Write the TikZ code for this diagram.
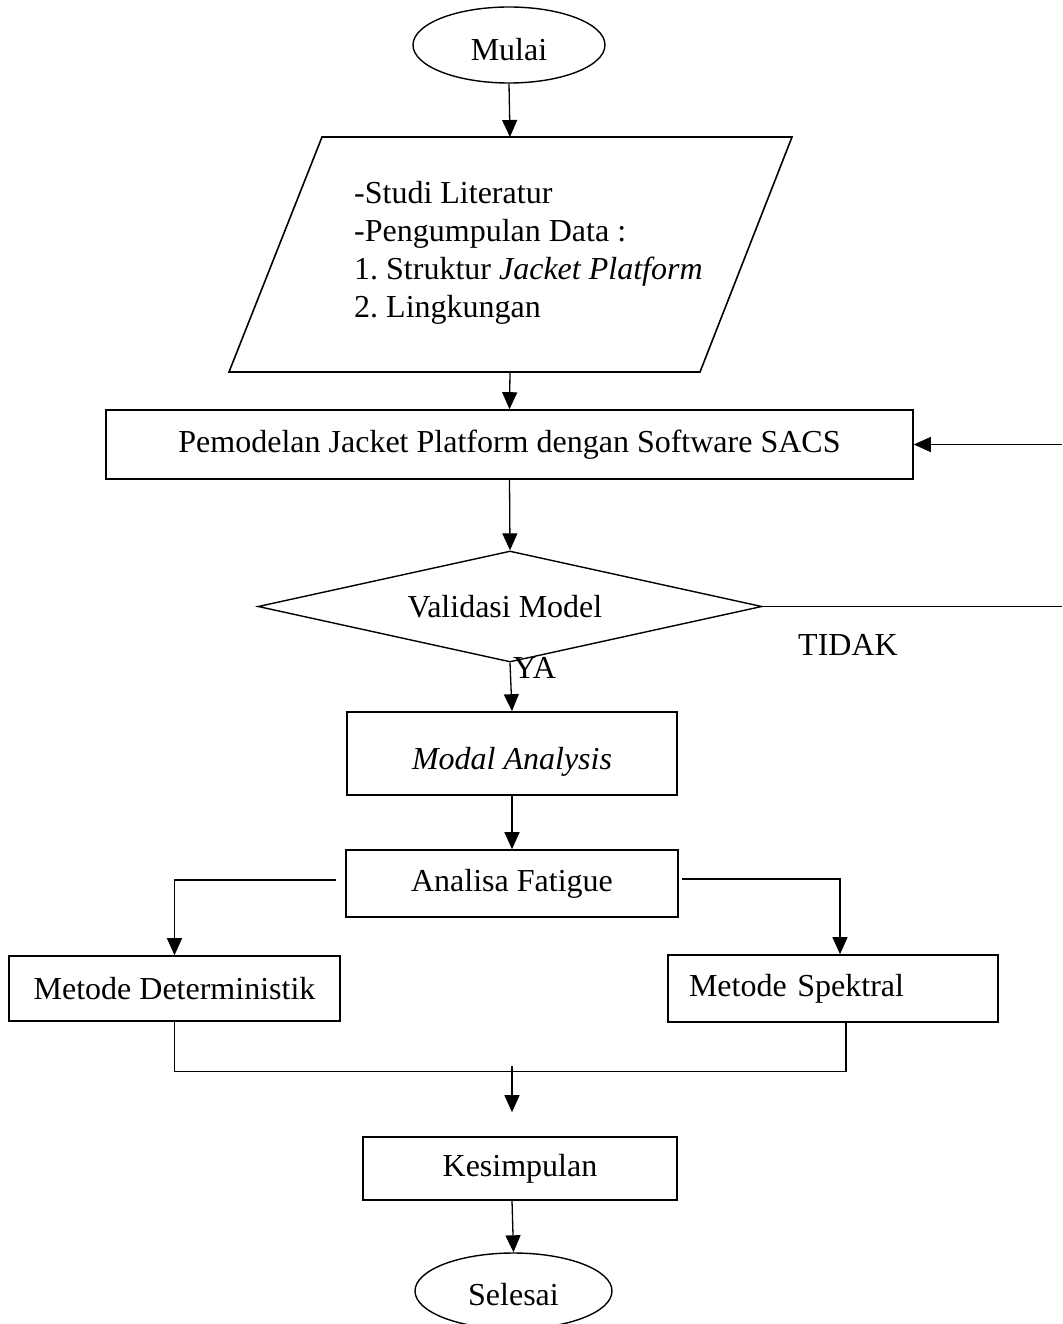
\documentclass[tikz,border=0pt]{standalone}
\usepackage{fontspec}
\setmainfont{Liberation Serif}
\usetikzlibrary{shapes.geometric,arrows.meta}
\begin{document}
\frenchspacing
\begin{tikzpicture}[x=1pt,y=-1pt,
  every node/.style={font=\fontsize{32}{38}\selectfont},
  box/.style={draw, line width=1.6pt, rectangle, inner sep=0pt},
  terminal/.style={draw, ellipse, line width=1.4pt, inner sep=0pt},
  link/.style={line width=1.3pt},
  arr/.style={line width=1.3pt, -{Triangle[width=15pt,length=17pt]}}
]
\useasboundingbox (0,0) rectangle (1062,1324);

% start
\node[terminal, minimum width=192pt, minimum height=76pt, text height=32pt, text depth=0pt] (start) at (509,45) {Mulai};

% input parallelogram
\coordinate (pTL) at (322,137);
\coordinate (pTR) at (792,137);
\coordinate (pBR) at (700,372);
\coordinate (pBL) at (229,372);
\coordinate (pIn) at (510,137);
\coordinate (pOut) at (510,372);
\draw[line width=1.6pt] (pTL) -- (pTR) -- (pBR) -- (pBL) -- cycle;
\node[anchor=north west, inner sep=0pt, align=left] (lit) at (354,181)
  {-Studi Literatur\\-Pengumpulan Data :\\1. Struktur \textit{Jacket Platform}\\2. Lingkungan};
\draw[arr] (start.south) -- (pIn);

% modelling
\node[box, minimum width=807pt, minimum height=69pt] (model) at (509.5,444.5)
  {Pemodelan Jacket Platform dengan Software SACS};
\draw[arr] (pOut) -- (model.north);

% validation
\node[diamond, draw, line width=1.4pt, inner sep=0pt, aspect=4.54,
  minimum width=504pt, minimum height=111pt] (valid) at (510,606.5) {\hspace*{-10pt}Validasi Model};
\draw[arr] (model.south) -- (valid.north);

% loop back (TIDAK)
\coordinate (loopA) at (1062,606.5);
\coordinate (loopB) at (1062,444.5);
\draw[link] (valid.east) -- (loopA);
\draw[arr] (loopB) -- (model.east);
\node (tidak) at (848,645) {TIDAK};

% modal analysis
\node[box, minimum width=330pt, minimum height=83pt, text height=38pt, text depth=7pt] (modal) at (512,753.5) {\textit{Modal Analysis}};
\draw[arr] (valid.south) -- (modal.north);
\node[anchor=west, inner sep=0pt] (ya) at (513,668) {YA};

% fatigue
\node[box, minimum width=332pt, minimum height=67pt] (fatigue) at (512,883.5) {Analisa Fatigue};
\draw[arr] (modal.south) -- (fatigue.north);

% methods
\node[box, minimum width=331pt, minimum height=65pt] (determ) at (174.5,988.5) {Metode Deterministik};
\node[box, text width=288pt, inner xsep=21pt, align=left, minimum height=67pt] (spektral) at (833,988.5) {Metode Spektral};
\draw[arr] ([xshift=-9pt,yshift=3.5pt]fatigue.west) -| (determ.north);
\draw[arr] ([xshift=3pt,yshift=4.5pt]fatigue.east) -| ([xshift=7pt]spektral.north);

% merge
\draw[link] (determ.south) |- ([xshift=13pt,yshift=-49pt]spektral.south) -- ([xshift=13pt]spektral.south);
\coordinate (merge) at (512,1066);

% conclusion
\node[box, minimum width=314pt, minimum height=63pt] (kes) at (520,1168.5) {Kesimpulan};
\draw[arr] (merge) -- ([xshift=-8pt,yshift=24pt]kes.north);

% end
\node[terminal, minimum width=197pt, minimum height=76pt, text height=28pt, text depth=0pt] (end) at (513.5,1291) {Selesai};
\draw[arr] ([xshift=-8pt]kes.south) -- (end.north);
\end{tikzpicture}
\end{document}
